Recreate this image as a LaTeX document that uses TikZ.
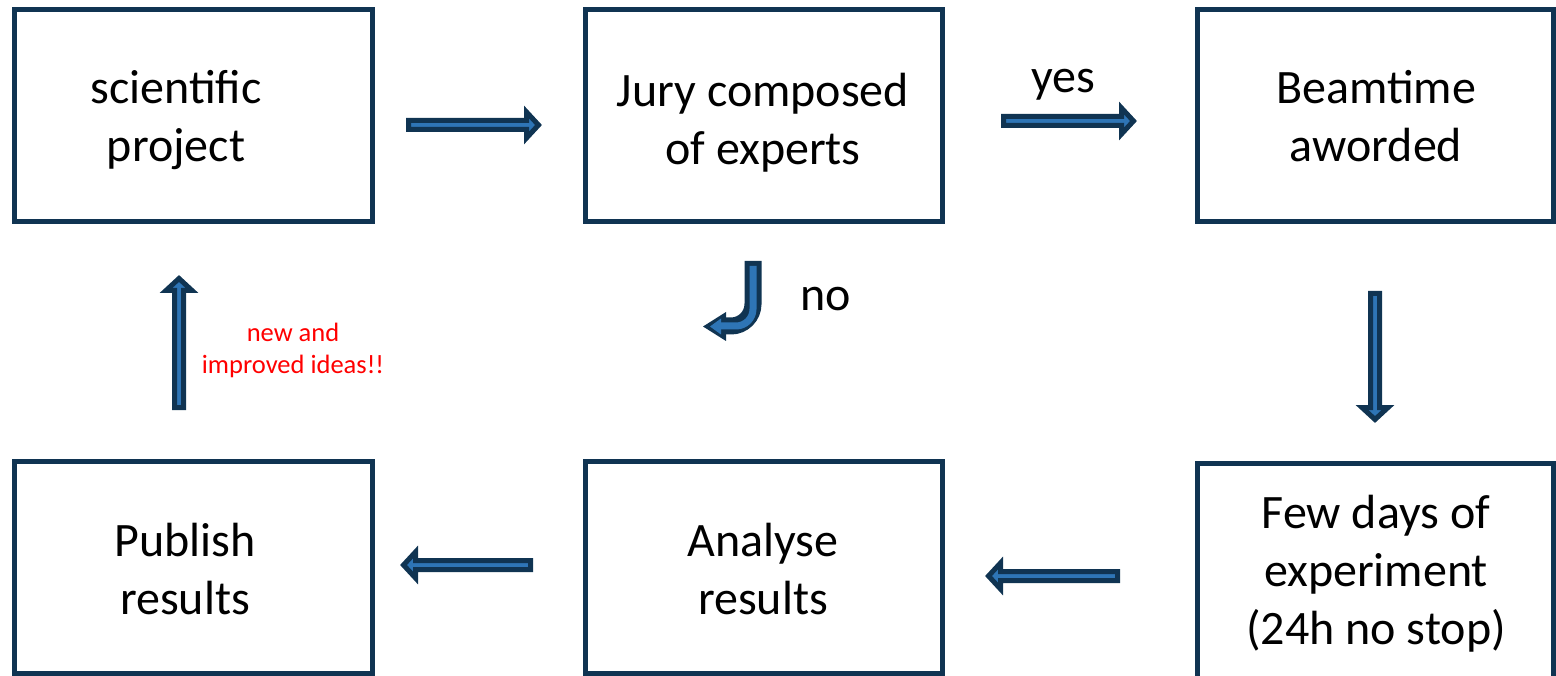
\documentclass[tikz,border=0pt]{standalone}
\usepackage{fontspec}
\setmainfont{Carlito}
\definecolor{navy}{RGB}{16,52,82}
\definecolor{fillblue}{RGB}{46,117,182}
\definecolor{redtext}{RGB}{255,0,0}
\tikzset{
  box/.style={draw=navy, line width=5pt, rectangle, inner sep=0pt, fill=white},
  label/.style={align=center, inner sep=0pt, font=\fontsize{48}{58}\selectfont},
  note/.style={align=center, inner sep=0pt, text=redtext, font=\fontsize{26.5}{32}\selectfont},
  blockarrow/.style={draw=navy, fill=fillblue, line width=5pt, line join=miter},
}
% start x, start y, angle, length
\newcommand{\barr}[4]{%
  \draw[blockarrow, shift={(#1,#2)}, rotate=#3]
    (0,-4.5) -- (#4-12,-4.5) -- (#4-12,-13) -- (#4,0) -- (#4-12,13) -- (#4-12,4.5) -- (0,4.5) -- cycle;}
\begin{document}
\begin{tikzpicture}[x=1pt, y=-1pt]
\useasboundingbox (0,0) rectangle (1556,676);
\clip (0,0) rectangle (1556,676);
% boxes
\node[box, minimum width=358pt, minimum height=212pt] (b1) at (193.5,115.5) {};
\node[box, minimum width=357pt, minimum height=212pt] (b2) at (764,115.5) {};
\node[box, minimum width=355.5pt, minimum height=212pt] (b3) at (1375.25,115.5) {};
\node[box, minimum width=358pt, minimum height=212pt] (b4) at (193.5,567.5) {};
\node[box, minimum width=357pt, minimum height=212pt] (b5) at (764,567.5) {};
\node[box, minimum width=355.5pt, minimum height=216pt] (b6) at (1375.25,571.5) {};
% texts
\node[label] (t1) at (176,121) {\strut scientific\\\strut project};
\node[label] (t2) at (763,124) {\strut Jury composed\\\strut of experts};
\node[label] (t3) at (1376,121) {\strut Beamtime\\\strut aworded};
\node[label] (t4) at (185,574) {\strut Publish\\\strut results};
\node[label] (t5) at (763,574) {\strut Analyse\\\strut results};
\node[label] (t6) at (1376,575) {\strut Few days of\\\strut experiment\\\strut (24h no stop)};
\node[label] (yes) at (1063,81) {\strut yes};
\node[label] (no) at (826,299) {\strut no};
\node[note] (ideas) at (293,351) {\strut new and\\\strut improved ideas!!};
% straight block arrows
\barr{408.5}{125}{0}{130}
\barr{1003.5}{121}{0}{130}
\barr{1375}{293.5}{-90}{126}
\barr{1117.5}{576}{180}{129}
\barr{530.5}{565}{180}{127}
\barr{179}{407.5}{90}{129}
% J-shaped arrow (no)
\coordinate (jtop) at (753,261);
\coordinate (jturn) at (753,326);
\coordinate (jend) at (723,326);
\coordinate (jtopin) at (753,266);
\draw[navy, line width=17pt, rounded corners=22pt] (jtop) -- (jturn) -- (jend);
\fill[navy] (726,312) -- (726,341) -- (703,326.5) -- cycle;
\draw[fillblue, line width=7pt, rounded corners=17pt] (jtopin) -- (jturn) -- (720,326);
\fill[fillblue] (721,318.5) -- (721,334.5) -- (710,326.5) -- cycle;
\end{tikzpicture}
\end{document}
